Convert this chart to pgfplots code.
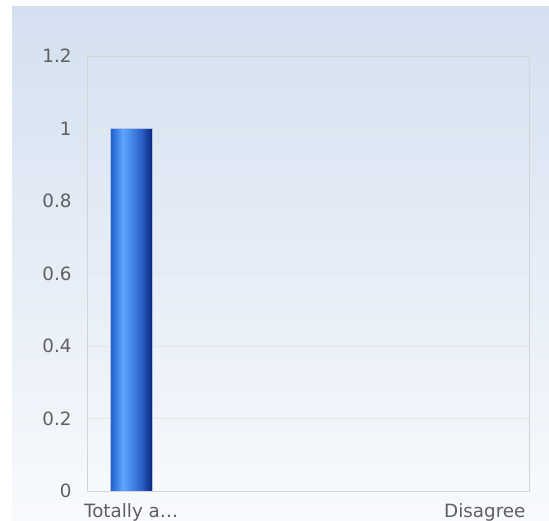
\documentclass[border=0pt]{standalone}
\usepackage{fontspec}
\setmainfont{DejaVu Sans}
\usepackage{pgfplots}
\pgfplotsset{compat=1.18}
\definecolor{panelTop}{HTML}{D4E0F0}
\definecolor{panelBot}{HTML}{F8FAFD}
\definecolor{frameGray}{HTML}{D2D4D8}
\definecolor{frameBottom}{HTML}{C9D3E6}
\definecolor{gridGray}{HTML}{E4E7EC}
\definecolor{labelGray}{HTML}{5F5F5F}
\definecolor{barEdge}{HTML}{B4C2E6}
\definecolor{barA}{HTML}{1E5CCC}
\definecolor{barB}{HTML}{5CA6FF}
\definecolor{barC}{HTML}{2D62C8}
\definecolor{barD}{HTML}{08267E}
\pgfdeclarehorizontalshading{barshade}{100bp}{%
  color(0bp)=(barA); color(25bp)=(barA); color(40bp)=(barB);
  color(62bp)=(barC); color(75bp)=(barD); color(100bp)=(barD)}

\begin{document}
\begin{tikzpicture}[x=1pt,y=1pt]
  \useasboundingbox (0,0) rectangle (549,521);
  % chart panel
  \shade[top color=panelTop, bottom color=panelBot] (12,0) rectangle (549,514);
  \begin{axis}[
    at={(87pt,30pt)}, anchor=south west,
    scale only axis,
    width=442pt, height=435pt,
    xmin=-0.5, xmax=4.5,
    ymin=0, ymax=1.2,
    xtick={0,4},
    xticklabels={Totally a…, Disagree},
    ytick={0,0.2,0.4,0.6,0.8,1,1.2},
    ymajorgrids,
    grid style={gridGray, line width=0.8pt},
    axis line style={frameGray, line width=0.8pt},
    major tick length=0pt,
    tick label style={font=\fontsize{18.3}{21}\selectfont, text=labelGray},
    /pgf/number format/assume math mode=true,
    yticklabel style={xshift=-12pt},
    xticklabel style={yshift=-9pt},
    ybar, bar width=42pt,
  ]
    \addplot[shading=barshade, shade, draw=barEdge, line width=0.9pt]
      coordinates {(0,1)};
    \draw[frameBottom, line width=0.8pt] (axis cs:-0.5,0) -- (axis cs:4.5,0);
  \end{axis}
\end{tikzpicture}
\end{document}
